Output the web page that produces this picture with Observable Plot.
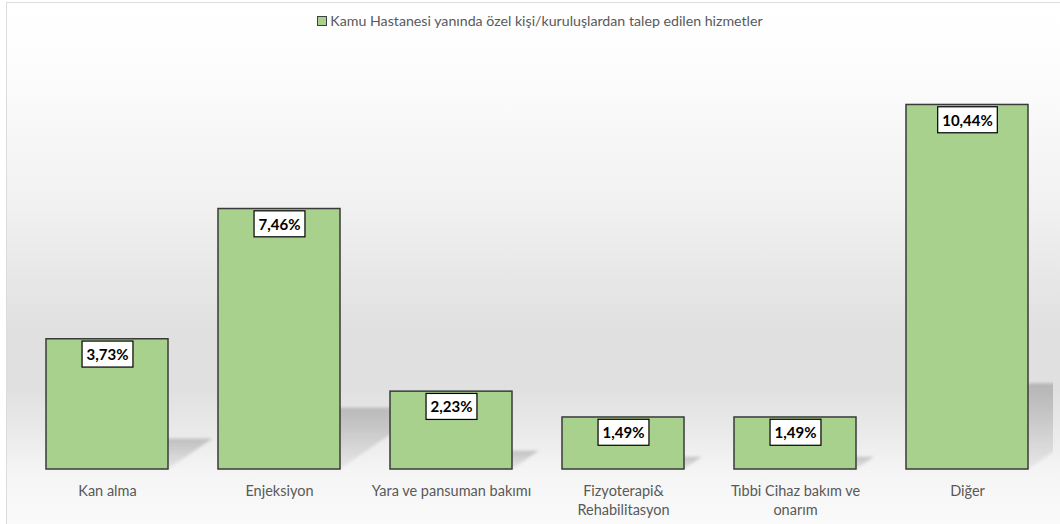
<!DOCTYPE html>
<html><head><meta charset="utf-8">
<script src="https://cdn.jsdelivr.net/npm/d3@7"></script>
<script src="https://cdn.jsdelivr.net/npm/@observablehq/plot@0.6"></script>
<style>
html,body{margin:0;padding:0;background:#fff;}
#wrap{position:relative;width:1060px;height:524px;overflow:hidden;}
#bg{position:absolute;left:6px;top:2px;width:1080px;height:540px;border:1.5px solid #dcdcdc;
 background:linear-gradient(to bottom,#ffffff 0px,#fdfdfd 60px,#f1f1f1 200px,#e0e0e0 330px,#e0e0e0 385px,#eaeaea 430px,#f5f5f5 470px,#fafafa 522px);}
#legend{position:absolute;left:0;top:12px;width:1060px;text-align:center;padding-left:20px;box-sizing:border-box;
 font-family:Lato,sans-serif;font-size:14.2px;color:#595959;white-space:nowrap;}
#legend .sw{display:inline-block;width:8px;height:8px;background:#a9d18e;border:1px solid #404040;margin-right:3px;vertical-align:0px;}
#chart{position:absolute;left:0;top:40px;}
</style>
</head><body>
<div id="wrap"><div id="bg"></div><div id="legend"></div><div id="chart"></div></div>
<script>
const seriesName = "Kamu Hastanesi yanında özel kişi/kuruluşlardan talep edilen hizmetler";
const categories = ["Kan alma","Enjeksiyon","Yara ve pansuman bakımı","Fizyoterapi& Rehabilitasyon","Tıbbi Cihaz bakım ve onarım","Diğer"];
const tickLabels = ["Kan alma","Enjeksiyon","Yara ve pansuman bakımı","Fizyoterapi&\nRehabilitasyon","Tıbbi Cihaz bakım ve\nonarım","Diğer"];
const values = [3.73, 7.46, 2.23, 1.49, 1.49, 10.44];
const valueLabels = ["3,73%","7,46%","2,23%","1,49%","1,49%","10,44%"];

const data = categories.map((c, i) => ({cat: c, value: values[i], label: valueLabels[i], tick: tickLabels[i]}));
const tickMap = new Map(data.map(d => [d.cat, d.tick]));

document.getElementById("legend").innerHTML = '<span class="sw"></span>' + seriesName;

function shadows(index, scales, vals, dims) {
  const x = scales.x, y = scales.y;
  const bw = typeof x.bandwidth === "function" ? x.bandwidth() : x.bandwidth;
  const g = d3.create("svg:g");
  const defs = g.append("defs");
  const lg = defs.append("linearGradient").attr("id", "shgrad").attr("x1", 0).attr("y1", 0).attr("x2", 0).attr("y2", 1);
  lg.append("stop").attr("offset", 0).attr("stop-color", "#000").attr("stop-opacity", 0.19);
  lg.append("stop").attr("offset", 1).attr("stop-color", "#000").attr("stop-opacity", 0.05);
  defs.append("filter").attr("id", "shblur").attr("x", "-20%").attr("y", "-20%").attr("width", "140%").attr("height", "140%")
    .append("feGaussianBlur").attr("stdDeviation", 1.6);
  defs.append("clipPath").attr("id", "shclip").append("rect")
    .attr("x", 0).attr("y", 0).attr("width", dims.width - dims.marginRight).attr("height", dims.height);
  const inner = g.append("g").attr("clip-path", "url(#shclip)");
  for (const d of data) {
    const x0 = x(d.cat), x1 = x0 + bw;
    const yb = y(0), yt = y(d.value);
    const sh = (yb - yt) * 0.235, off = sh * 1.45;
    inner.append("path")
      .attr("d", `M${x0},${yb}L${x1},${yb}L${x1 + off},${yb - sh}L${x0 + off},${yb - sh}Z`)
      .attr("fill", "url(#shgrad)").attr("filter", "url(#shblur)");
  }
  return g.node();
}

const chart = Plot.plot({
  width: 1060,
  height: 484,
  marginTop: 10,
  marginBottom: 55,
  marginLeft: 21,
  marginRight: 7,
  x: {domain: categories, paddingInner: 0.29, paddingOuter: 0.145, axis: null},
  y: {domain: [0, 12], axis: null},
  style: {background: "transparent", fontFamily: "Lato, sans-serif"},
  marks: [
    shadows,
    Plot.barY(data, {x: "cat", y: "value", fill: "#a9d18e", stroke: "#3a3a3a", strokeWidth: 1.5}),
    Plot.text(data, {x: "cat", y: "value", text: "label", dy: 16, fontSize: 15, fontWeight: "bold", fill: "#000", fontFamily: "Lato, sans-serif"}),
    Plot.axisX({tickSize: 0, tickPadding: 13, fontSize: 14.5, lineHeight: 1.32, tickFormat: d => tickMap.get(d), fill: "#595959", label: null, fontFamily: "Lato, sans-serif"})
  ]
});
document.getElementById("chart").appendChild(chart);

// white boxes behind value labels
const labelGroup = chart.querySelector('g[aria-label="text"]');
if (labelGroup) {
  labelGroup.querySelectorAll("text").forEach(t => {
    const b = t.getBBox();
    const padX = 4.5;
    const r = document.createElementNS("http://www.w3.org/2000/svg", "rect");
    const cy = b.y + b.height / 2;
    r.setAttribute("x", b.x - padX);
    r.setAttribute("y", cy - 13);
    r.setAttribute("width", b.width + 2 * padX);
    r.setAttribute("height", 26);
    r.setAttribute("fill", "#fff");
    r.setAttribute("stroke", "#000");
    r.setAttribute("stroke-width", 1.2);
    if (t.getAttribute("transform")) r.setAttribute("transform", t.getAttribute("transform"));
    labelGroup.insertBefore(r, t);
  });
}
</script>
</body></html>
